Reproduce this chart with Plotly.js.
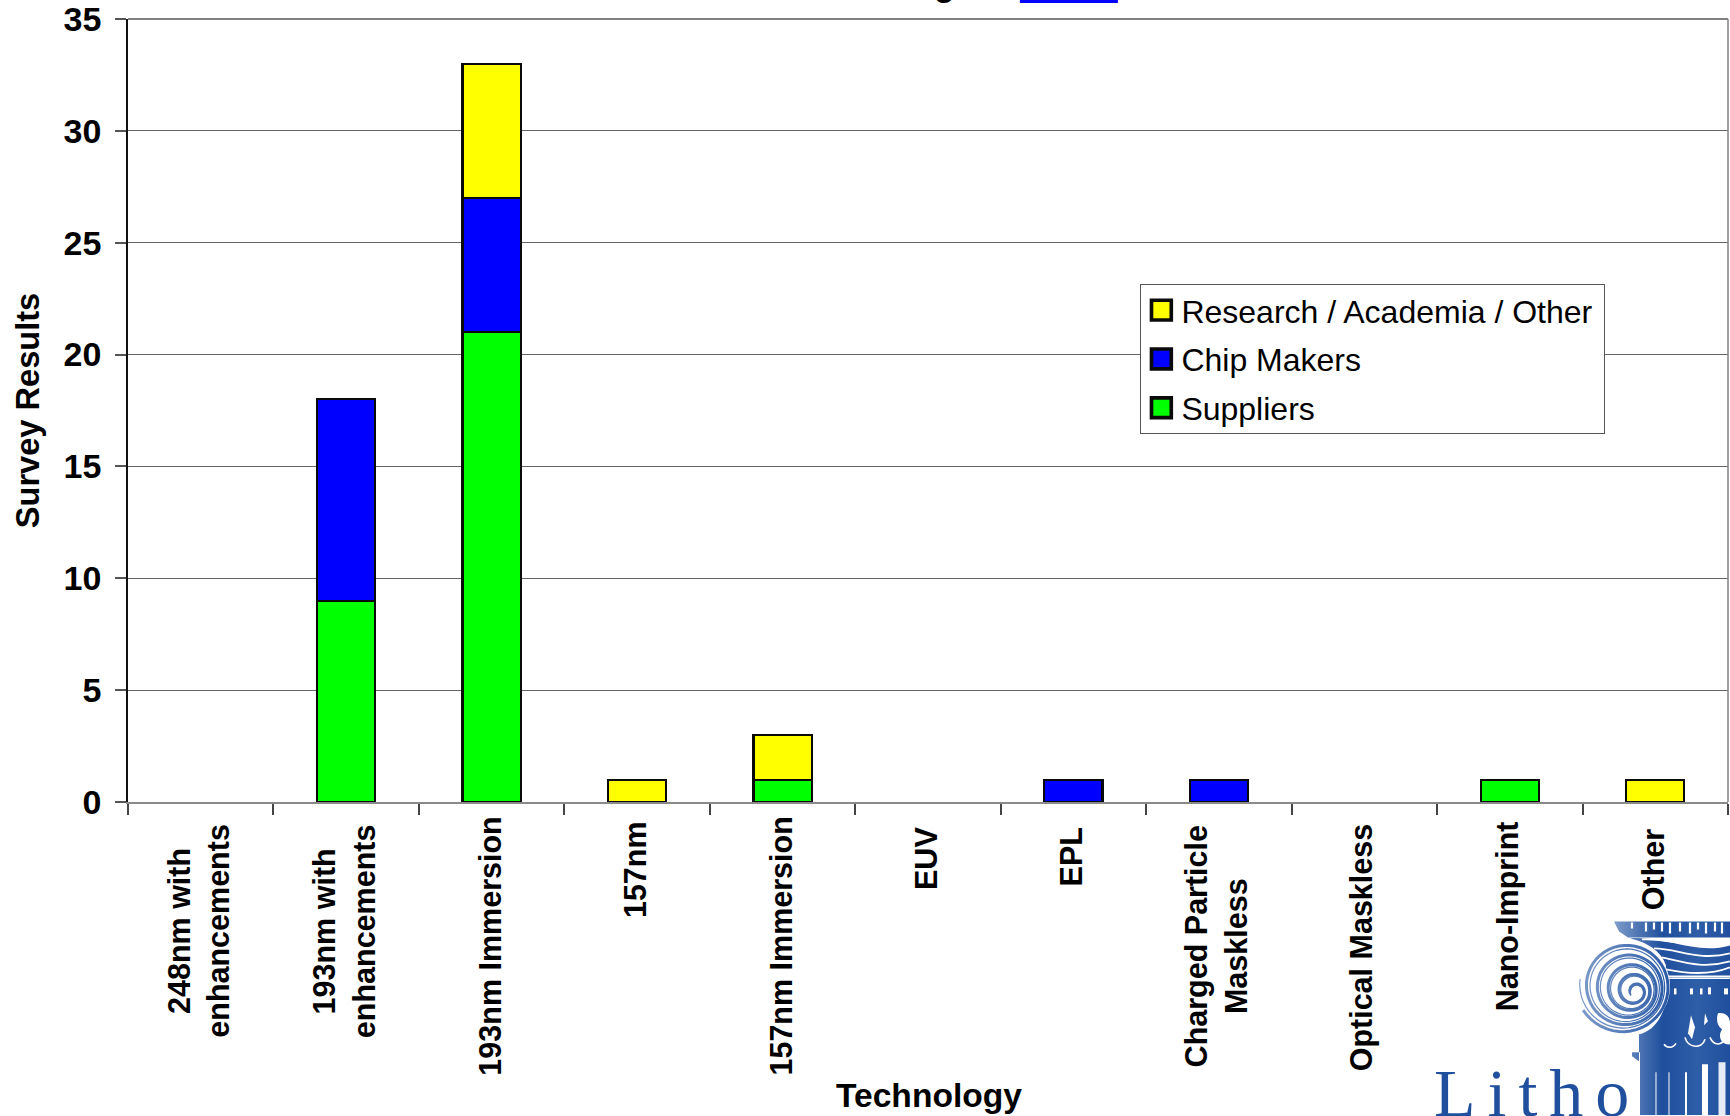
<!DOCTYPE html>
<html>
<head>
<meta charset="utf-8">
<script src="https://cdn.plot.ly/plotly-3.0.1.min.js"></script>
<style>html,body{margin:0;padding:0;background:#fff;overflow:hidden}</style>
</head>
<body>
<div id="chart" style="width:1730px;height:1116px"></div>
<script>
const categories = ["248nm with<br>enhancements","193nm with<br>enhancements","193nm Immersion","157nm","157nm Immersion","EUV","EPL","Charged Particle<br>Maskless","Optical Maskless","Nano-Imprint","Other"];
const suppliers = [0,9,21,0,1,0,0,0,0,1,0];
const chipMakers = [0,9,6,0,0,0,1,1,0,0,0];
const research = [0,0,6,1,2,0,0,0,0,0,1];
const yTicks = [0,5,10,15,20,25,30,35];

const FONT = "Liberation Sans, Arial, sans-serif";

// Plot frame in page pixels
const PLOT = {left: 128.3, right: 1728, top: 19, bottom: 802.5};
const px = v => (v - PLOT.left) / (PLOT.right - PLOT.left);
const py = v => (PLOT.bottom - v) / (PLOT.bottom - PLOT.top);

// Page-pixel top edge of each rotated category label
const labelTops = [822.5, 822.5, 815, 820, 815, 826, 826, 824, 821.5, 820, 828];

const bar = (name, values, color) => ({
  type: "bar", name, x: categories,
  // empty slots get no outline stub on the baseline
  y: values.map(v => v === 0 ? null : v),
  width: 0.4,
  marker: {color, line: {color: "#0a0a0a", width: 2.2}},
  hoverinfo: "x+y+name"
});
const traces = [
  bar("Suppliers", suppliers, "#00ff00"),
  bar("Chip Makers", chipMakers, "#0000ff"),
  bar("Research / Academia / Other", research, "#ffff00")
];

// Spiral of the volute as an SVG path, drifting from the eye to the outer rim
function spiralPath(turns, rMax, phase) {
  const pts = [];
  const steps = Math.round(turns * 48);
  for (let i = 0; i <= steps; i++) {
    const t = i / steps;
    const a = phase + t * turns * 2 * Math.PI;
    const r = 5 + t * (rMax - 5);
    const cx = 66 - t * 12.5, cy = 83 - t * 6.5;
    pts.push((cx + r * Math.cos(a)).toFixed(1) + " " + (cy + r * Math.sin(a)).toFixed(1));
  }
  return "M" + pts.join("L");
}

// Engraved column of the logo, corner of the page
const logoSvg = `<svg xmlns="http://www.w3.org/2000/svg" width="160" height="206" viewBox="0 0 160 206">
<defs>
<linearGradient id="g" gradientUnits="userSpaceOnUse" x1="44" x2="160" y1="0" y2="0"><stop offset="0" stop-color="#7f9dca"/><stop offset=".42" stop-color="#1f4f9d"/><stop offset=".72" stop-color="#2f5ea8"/><stop offset="1" stop-color="#1f4f9d"/></linearGradient>
<linearGradient id="v" gradientUnits="userSpaceOnUse" x1="8" x2="100" y1="0" y2="0"><stop offset="0" stop-color="#7f9dca"/><stop offset="1" stop-color="#2a5aa6"/></linearGradient>
</defs>
<path d="M44 12H160V28H58L49 22Z" fill="url(#g)"/>
<g stroke="#fff" stroke-width="2.2"><path d="M62 13V19M76 13V22M84 13V20M92 13V22M100 13V24M110 13V22M120 13V24M128 13V20M136 13V24M145 13V22M152 13V24"/></g>
<path d="M60 29C95 26 125 46 160 36V66H96V56C92 42 76 32 60 29Z" fill="url(#g)"/>
<path d="M72 30C100 28 125 42 160 33M84 39C108 39 128 52 160 44M92 48C112 52 132 60 160 52M96 60C115 64 140 66 160 58" fill="none" stroke="#fff" stroke-width="1.8"/>
<path d="M96 68H160V206H70V143H62V147L69 152V125C84 122 96 105 96 84Z" fill="url(#g)"/>
<path d="M97 69H160" stroke="#fff" stroke-width="1.4"/>
<circle cx="54" cy="77" r="46" fill="#fff"/>
<path d="${spiralPath(5, 47, 2.6)}" fill="none" stroke="url(#v)" stroke-width="3"/>
<path d="${spiralPath(5, 44, 3.3)}" fill="none" stroke="url(#v)" stroke-width="1.2"/>
<circle cx="66" cy="83" r="5" fill="#fff"/>
<g fill="#fff"><rect x="104" y="79" width="2.5" height="6"/><rect x="120" y="79" width="3" height="6"/><rect x="130" y="79" width="2.5" height="6"/><rect x="138" y="78" width="3" height="7"/><rect x="154" y="79" width="4" height="6"/>
<path d="M148 104C156 102 160 108 160 114V135C152 136 147 128 152 120C147 116 146 110 148 104Z"/>
<path d="M121 106L125 118L122 130L118 124Z"/><path d="M135 104L138 112L134 116Z"/></g>
<path d="M94 135C97 139 103 139 106 134" fill="none" stroke="#fff" stroke-width="1.6"/>
<path d="M115 128C118 139 132 140 135 130M140 128C144 137 152 136 154 130" fill="none" stroke="#fff" stroke-width="1.6"/>
<g stroke="#fff"><path stroke-width="1" d="M86 163V206M99 163V206"/><path stroke-width="2" d="M116 163V206"/><path stroke-width="6" d="M135 155V206"/><path stroke-width="7" stroke="#e6ecf6" d="M152 153V206"/></g>
</svg>`;

const labelAnnotations = categories.map((c, i) => ({
  text: c, x: c, xref: "x", y: py(labelTops[i]), yref: "paper", yanchor: "top", xanchor: "center",
  xshift: -2, showarrow: false, textangle: -90, align: "center",
  font: {family: FONT, size: 30.5, color: "#000", weight: 700}
}));

const layout = {
  width: 1730, height: 1116,
  paper_bgcolor: "#fff", plot_bgcolor: "#fff",
  margin: {l: PLOT.left, r: 1730 - PLOT.right, t: PLOT.top, b: 1116 - PLOT.bottom, pad: 0},
  barmode: "stack",
  xaxis: {
    type: "category", categoryorder: "array", categoryarray: categories,
    tickson: "boundaries", ticks: "outside", ticklen: 11, tickwidth: 1.5, tickcolor: "#444",
    showticklabels: false, showgrid: false, zeroline: false,
    showline: true, linecolor: "#8a8a8a", linewidth: 2,
    title: {text: ""}
  },
  yaxis: {
    range: [0, 35], tickvals: yTicks, ticktext: yTicks.map(String),
    ticks: "outside", ticklen: 11, tickwidth: 1.5, tickcolor: "#555",
    ticklabelstandoff: 7, ticklabeloverflow: "allow",
    tickfont: {family: FONT, size: 34, color: "#000", weight: 700},
    showline: true, linecolor: "#111", linewidth: 1.5,
    showgrid: true, gridcolor: "#666", gridwidth: 1.4, zeroline: false,
    title: {text: "Survey Results", standoff: 14.5, font: {family: FONT, size: 32.6, color: "#000", weight: 700}}
  },
  legend: {
    x: px(1140), y: py(284), xanchor: "left", yanchor: "top", traceorder: "reversed",
    bgcolor: "#fff", bordercolor: "#555", borderwidth: 1.5,
    font: {family: FONT, size: 32, color: "#000"}
  },
  annotations: labelAnnotations.concat([
    {text: "Technology", xref: "paper", yref: "paper", x: px(929), y: py(1096), xanchor: "center", yanchor: "middle",
     showarrow: false, font: {family: FONT, size: 33.6, color: "#000", weight: 700}},
    {text: "Litho", xref: "paper", yref: "paper", x: px(1462), y: py(1134), xanchor: "left", yanchor: "bottom",
     showarrow: false, font: {family: "Liberation Serif, serif", size: 68, color: "#1f4f9d"}},
    {text: "g", xref: "paper", yref: "paper", x: px(945), y: py(5), xanchor: "center", yanchor: "bottom",
     showarrow: false, font: {family: FONT, size: 34, color: "#000", weight: 700}}
  ]),
  shapes: [
    {type: "rect", xref: "paper", yref: "paper", x0: px(1020), x1: px(1118), y0: py(3), y1: py(-5), line: {width: 0}, fillcolor: "#0000ff", layer: "above"},
    {type: "line", xref: "paper", yref: "paper", x0: 0, x1: 1, y0: 1, y1: 1, line: {color: "#808080", width: 2.2}},
    {type: "line", xref: "paper", yref: "paper", x0: 1, x1: 1, y0: 0, y1: 1, line: {color: "#808080", width: 1.5}}
  ],
  images: [{source: "data:image/svg+xml;charset=utf-8," + encodeURIComponent(logoSvg),
    xref: "paper", yref: "paper", x: px(1570), y: py(910),
    sizex: 160 / (PLOT.right - PLOT.left), sizey: 206 / (PLOT.bottom - PLOT.top),
    xanchor: "left", yanchor: "top", sizing: "stretch", layer: "below"}]
};

Plotly.newPlot("chart", traces, layout, {displayModeBar: false, responsive: false}).then(() => {
  const root = document.getElementById("chart");
  // Widely tracked logo lettering
  root.querySelectorAll(".annotation-text").forEach(t => {
    if (t.textContent === "Litho") t.style.letterSpacing = "12px";
  });
  // Looser legend: larger swatches, wider rows, fixed box size
  const legend = root.querySelector(".legend");
  legend.querySelectorAll(".legendpoints path").forEach(p => {
    p.setAttribute("transform", (p.getAttribute("transform") || "") + " scale(1.65)");
  });
  const scroll = legend.querySelector(".scrollbox");
  if (scroll) scroll.removeAttribute("clip-path");
  legend.querySelectorAll(".traces").forEach((g, i) => {
    const m = /translate\(([-\d.]+)[ ,]+([-\d.]+)\)/.exec(g.getAttribute("transform") || "");
    if (m) g.setAttribute("transform", `translate(${m[1]},${+m[2] - 2.5 + i * 4.2})`);
  });
  const bg = legend.querySelector(".bg");
  if (bg) { bg.setAttribute("width", 464); bg.setAttribute("height", 149); }
});
</script>
</body>
</html>
